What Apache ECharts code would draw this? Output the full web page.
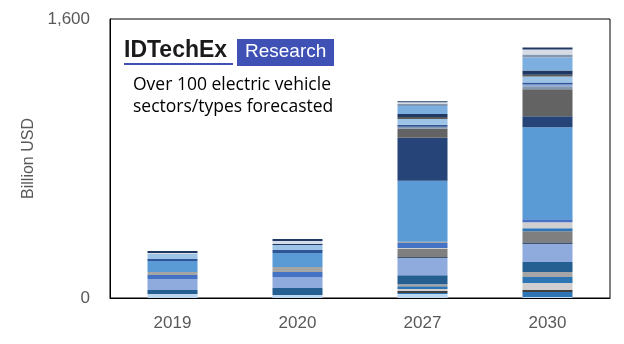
<!DOCTYPE html>
<html><head><meta charset="utf-8">
<script src="https://cdn.jsdelivr.net/npm/echarts@6/dist/echarts.min.js"></script>
<style>html,body{margin:0;padding:0;background:#fff}#c{width:624px;height:344px}</style>
</head><body><div id="c"></div>
<script>
const categories = ['2019', '2020', '2027', '2030'];
const yTicks = [0, 1600];
const yTitle = 'Billion USD';
const logoMain = 'IDTechEx';
const logoTag = 'Research';
const noteLines = ['Over 100 electric vehicle', 'sectors/types forecasted'];

// stacked segments, bottom to top: [2019, 2020, 2027, 2030] billion USD
const s01 = [23, 17, 23, 6];
const s02 = [0, 0, 6, 29];
const s03 = [0, 0, 11, 11];
const s04 = [0, 0, 11, 40];
const s05 = [0, 0, 17, 34];
const s06 = [0, 0, 11, 29];
const s07 = [23, 40, 52, 57];
const s08 = [63, 63, 98, 103];
const s09 = [0, 0, 6, 11];
const s10 = [0, 0, 46, 63];
const s11 = [0, 0, 0, 17];
const s12 = [0, 0, 6, 34];
const s13 = [23, 29, 29, 17];
const s14 = [17, 29, 6, 0];
const s15 = [63, 80, 350, 528];
const s16 = [0, 0, 247, 63];
const s17 = [0, 0, 52, 155];
const s18 = [0, 0, 11, 17];
const s19 = [0, 0, 0, 11];
const s20 = [11, 17, 11, 11];
const s21 = [29, 29, 34, 34];
const s22 = [0, 0, 11, 11];
const s23 = [0, 6, 17, 23];
const s24 = [0, 0, 46, 75];
const s25 = [0, 0, 11, 17];
const s26 = [6, 17, 11, 29];
const s27 = [11, 11, 6, 11];

const segments = [s01,s02,s03,s04,s05,s06,s07,s08,s09,s10,s11,s12,s13,s14,s15,s16,s17,s18,s19,s20,s21,s22,s23,s24,s25,s26,s27];
const colors = ['#BDD7EE','#2E75B6','#404040','#D0CECE','#2E75B6','#A5A5A5','#255E91','#8FAADC','#44546A','#7F7F7F',
  '#2E75B6','#D0CECE','#4472C4','#A5A5A5','#5B9BD5','#264478','#636363','#8497B0','#8FAADC','#2F5597',
  '#9DC3E6','#595959','#203864','#7DAEE0','#8497B0','#D6DCE5','#1F3864'];

const chart = echarts.init(document.getElementById('c'), null, {renderer: 'canvas'});
const series = segments.map((d, i) => ({
  type: 'bar', stack: 'total', data: d, barWidth: 50,
  itemStyle: {color: colors[i]}, silent: true
}));

chart.setOption({
  animation: false,
  grid: {left: 110, right: 14, top: 19, bottom: 46, show: true, borderColor: '#000', borderWidth: 1},
  xAxis: {type: 'category', data: categories,
    axisLine: {lineStyle: {color: '#000', width: 1}}, axisTick: {show: false},
    axisLabel: {color: '#595959', fontSize: 17, fontFamily: 'Liberation Sans', margin: 17}},
  yAxis: {type: 'value', min: yTicks[0], max: yTicks[1], interval: 1600,
    name: yTitle, nameLocation: 'middle', nameGap: 72, nameRotate: 90,
    nameTextStyle: {color: '#595959', fontSize: 16, fontFamily: 'Liberation Sans'},
    axisLine: {show: true, lineStyle: {color: '#000'}}, axisTick: {show: false}, splitLine: {show: false},
    axisLabel: {color: '#595959', fontSize: 17, fontFamily: 'Liberation Sans', margin: 20,
      formatter: v => v.toLocaleString('en-US')}},
  series: series,
  graphic: [
    {type: 'text', left: 124, top: 39, style: {text: logoMain, font: 'bold 23px "Liberation Sans"', fill: '#1a1a1a'}},
    {type: 'rect', shape: {x: 124, y: 63, width: 109, height: 2}, style: {fill: '#3F51B5'}},
    {type: 'rect', shape: {x: 237, y: 39, width: 97, height: 27}, style: {fill: '#3F51B5'}},
    {type: 'text', left: 245, top: 42, style: {text: logoTag, font: '19px "Liberation Sans"', fill: '#fff'}},
    {type: 'text', left: 133, top: 76, style: {text: noteLines[0], font: '17.5px "Open Sans"', fill: '#000'}},
    {type: 'text', left: 133, top: 98, style: {text: noteLines[1], font: '17.5px "Open Sans"', fill: '#000'}}
  ]
});
</script></body></html>
